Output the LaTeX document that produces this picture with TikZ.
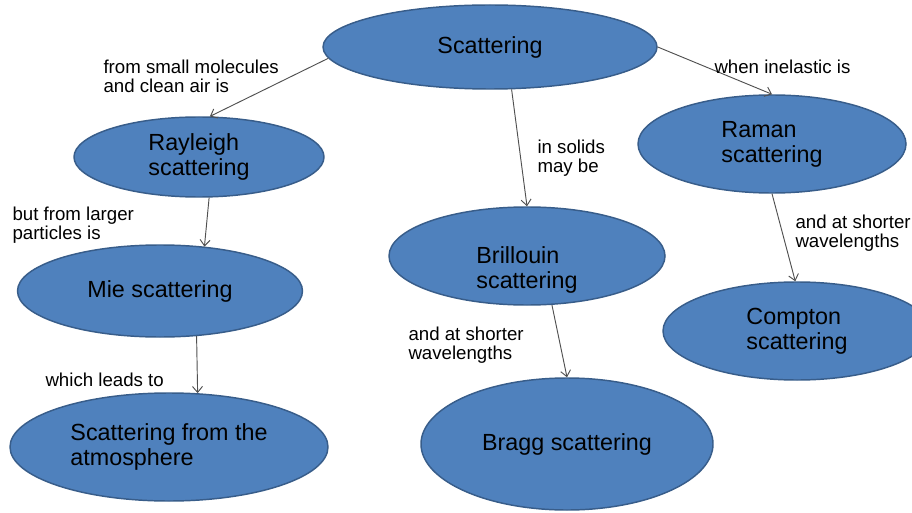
\documentclass[tikz,border=0pt]{standalone}
\usepackage{fontspec}
\setmainfont{Liberation Sans}
\usetikzlibrary{shapes.geometric,arrows.meta}

\tikzset{every picture/.style={line width=0.75pt}}
\tikzset{
	bubble/.style={ellipse, draw={rgb, 255:red, 56; green, 93; blue, 138 }, line width=1.1pt, fill={rgb, 255:red, 79; green, 129; blue, 189 }, inner sep=0pt, align=left, font=\fontsize{17.5}{18.75}\selectfont},
	linkto/.style={draw={rgb, 255:red, 80; green, 80; blue, 80 }, line width=0.7pt, -{Straight Barb[length=4.5pt,width=7.5pt]}},
	note/.style={anchor=west, inner sep=0pt, align=left, font=\fontsize{14}{14.5}\selectfont}
}

\begin{document}
\begin{tikzpicture}[x=0.75pt,y=0.75pt,yscale=-1,xscale=1]
	\useasboundingbox (0,0) rectangle (912,513); %set diagram to 912 x 513

	%Shape: Ellipse [scat]
	\node [bubble, minimum width=250.5pt, minimum height=63pt] (scat) at (490,47) {Scattering};
	%Shape: Ellipse [ray]
	\node [bubble, minimum width=187.5pt, minimum height=60pt] (ray) at (199,157) {Rayleigh\\scattering};
	%Shape: Ellipse [mie]
	\node [bubble, minimum width=213.75pt, minimum height=69pt] (mie) at (160,291) {Mie scattering};
	%Shape: Ellipse [atm]
	\node [bubble, minimum width=238.5pt, minimum height=81pt] (atm) at (169,447) {Scattering from the\\atmosphere};
	%Shape: Ellipse [bril] -- text sits low in this one
	\node [bubble, minimum width=207pt, minimum height=73.5pt] (bril) at (527,256) {\raisebox{-11.5pt}[\height][\depth]{\begin{tabular}{@{}l@{}}Brillouin\\scattering\end{tabular}}};
	%Shape: Ellipse [bragg]
	\node [bubble, minimum width=219pt, minimum height=99pt] (bragg) at (567,444) {Bragg scattering};
	%Shape: Ellipse [raman]
	\node [bubble, minimum width=201pt, minimum height=73.5pt] (raman) at (772,144) {Raman\\scattering};
	%Shape: Ellipse [compton] (runs off the right side)
	\node [bubble, minimum width=201pt, minimum height=73.5pt] (compton) at (797,331) {Compton\\scattering};

	%Straight Lines [links]
	\draw [linkto] (scat.184) -- (ray.75);
	\draw [linkto] (ray.284) -- (mie.45);
	\draw [linkto] (mie.309) -- (atm.62);
	\draw [linkto] (scat.297) -- (bril.north);
	\draw [linkto] (bril.297) -- (bragg.north);
	\draw [linkto] (scat.east) -- (raman.north);
	\draw [linkto] (raman.south) -- (compton.92);

	% Text Node
	\node [note] (smallnote) at (103,76.5) {from small molecules\\and clean air is};
	% Text Node
	\node [note] (largenote) at (12,225) {but from larger\\particles is};
	% Text Node
	\node [note] (leadsnote) at (45,380) {which leads to};
	% Text Node
	\node [note] (solidnote) at (537,158) {in solids\\may be};
	% Text Node
	\node [note] (shortnoteA) at (408,345) {and at shorter\\wavelengths};
	% Text Node
	\node [note] (inelnote) at (714,67) {when inelastic is};
	% Text Node
	\node [note] (shortnoteB) at (795,233) {and at shorter\\wavelengths};

\end{tikzpicture}
\end{document}
